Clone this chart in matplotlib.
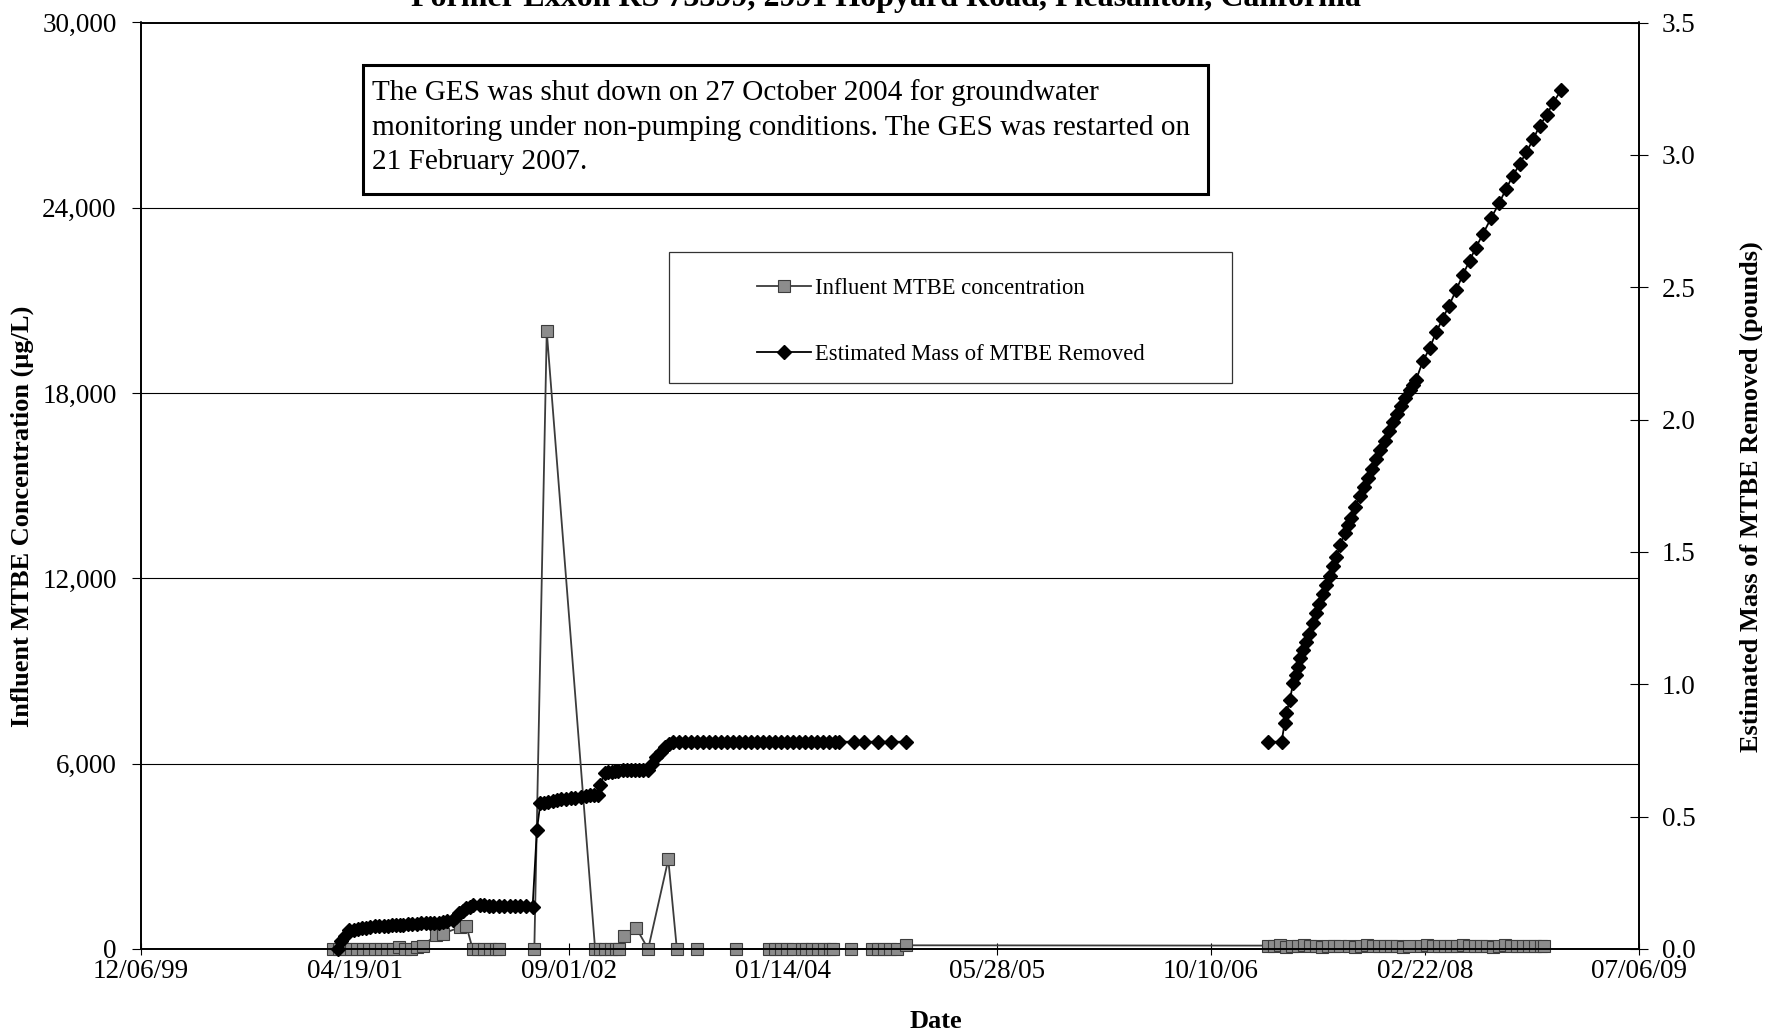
import numpy as np
import pandas as pd
import matplotlib
matplotlib.use('Agg')
import matplotlib.pyplot as plt
import matplotlib.dates as mdates
from matplotlib.patches import Rectangle
from matplotlib.ticker import FuncFormatter

plt.rcParams['font.family'] = ['Liberation Serif', 'DejaVu Serif']

# influent MTBE concentration (ug/L), left axis
conc_dates = [
    '2001-02-26', '2001-03-12', '2001-03-26', '2001-04-09', '2001-04-23', '2001-05-07',
    '2001-05-21', '2001-06-04', '2001-06-18', '2001-07-02', '2001-07-16', '2001-07-30',
    '2001-08-13', '2001-08-27', '2001-09-10', '2001-09-24',
    '2001-10-25', '2001-11-10', '2001-12-20', '2002-01-04',
    '2002-01-19', '2002-02-01', '2002-02-15', '2002-03-01', '2002-03-15', '2002-03-22',
    '2002-06-12', '2002-07-11',
    '2002-11-01', '2002-11-13', '2002-11-25', '2002-12-07', '2002-12-19', '2002-12-26',
    '2003-01-08', '2003-02-05', '2003-03-05', '2003-04-21', '2003-05-11', '2003-06-27',
    '2003-09-26',
    '2003-12-12', '2003-12-26', '2004-01-09', '2004-01-23', '2004-02-06', '2004-02-27',
    '2004-03-08', '2004-03-22', '2004-04-05', '2004-04-19', '2004-05-03', '2004-05-10',
    '2004-06-22',
    '2004-08-09', '2004-08-23', '2004-09-06', '2004-09-20', '2004-10-06', '2004-10-27',
    '2007-02-21', '2007-03-07', '2007-03-21', '2007-04-04', '2007-04-18', '2007-05-02',
    '2007-05-16', '2007-05-30', '2007-06-13', '2007-06-27', '2007-07-11', '2007-07-25',
    '2007-08-08', '2007-08-29', '2007-09-12', '2007-09-26', '2007-10-10', '2007-10-24',
    '2007-11-07', '2007-11-21', '2007-12-05', '2007-12-19', '2008-01-02', '2008-01-16',
    '2008-02-13', '2008-02-27', '2008-03-12', '2008-03-26', '2008-04-09', '2008-04-23',
    '2008-05-07', '2008-05-21', '2008-06-04', '2008-06-18', '2008-07-02', '2008-07-16',
    '2008-07-30', '2008-08-13', '2008-08-27', '2008-09-10', '2008-09-24', '2008-10-08',
    '2008-10-22', '2008-11-05', '2008-11-19', '2008-11-26',
]
conc_vals = [
    0, 0, 0, 0, 0, 0,
    0, 0, 0, 0, 0, 50,
    0, 0, 50, 100,
    450, 500, 700, 750,
    0, 0, 0, 0, 0, 0,
    0, 20000,
    0, 0, 0, 0, 0, 0,
    420, 680, 0, 2900, 0, 0,
    0,
    0, 0, 0, 0, 0, 0,
    0, 0, 0, 0, 0, 0,
    0,
    0, 0, 0, 0, 0, 120,
    110, 95, 120, 80, 100, 90,
    130, 85, 100, 75, 95, 110,
    90, 105, 80, 100, 120, 90,
    85, 100, 110, 95, 80, 100,
    90, 115, 85, 100, 95, 90,
    100, 120, 85, 95, 110, 90,
    80, 100, 115, 90, 105, 95,
    85, 100, 110, 90,
]

# estimated mass of MTBE removed (pounds), right axis, before shutdown
mass_dates_a = [
    '2001-03-10', '2001-03-18', '2001-03-26', '2001-04-06', '2001-04-16', '2001-04-25',
    '2001-05-05', '2001-05-15', '2001-05-25', '2001-06-05', '2001-06-15', '2001-06-25',
    '2001-07-05', '2001-07-15', '2001-07-24', '2001-08-01', '2001-08-10', '2001-08-20',
    '2001-08-30', '2001-09-10', '2001-09-20', '2001-10-02', '2001-10-11', '2001-10-20',
    '2001-11-02', '2001-11-11', '2001-11-20', '2001-12-03', '2001-12-11', '2001-12-19',
    '2001-12-27', '2002-01-04', '2002-01-12', '2002-01-19', '2002-02-05', '2002-02-15',
    '2002-02-25', '2002-03-08', '2002-03-22', '2002-04-03', '2002-04-15', '2002-04-27',
    '2002-05-10', '2002-05-24', '2002-06-08', '2002-06-18', '2002-06-26', '2002-07-05',
    '2002-07-15', '2002-07-25', '2002-08-03', '2002-08-14', '2002-08-25', '2002-09-05',
    '2002-09-15', '2002-09-30', '2002-10-10', '2002-10-20', '2002-10-30', '2002-11-08',
    '2002-11-13', '2002-11-23', '2002-12-02', '2002-12-10', '2002-12-18', '2002-12-25',
    '2003-01-06', '2003-01-15', '2003-01-25', '2003-02-03', '2003-02-12', '2003-02-22',
    '2003-03-05', '2003-03-14', '2003-03-24', '2003-04-03', '2003-04-13', '2003-04-22',
    '2003-05-02', '2003-05-16', '2003-05-30', '2003-06-13', '2003-06-27', '2003-07-11',
    '2003-07-25', '2003-08-08', '2003-08-22', '2003-09-05', '2003-09-19', '2003-10-03',
    '2003-10-17', '2003-10-31', '2003-11-14', '2003-11-28', '2003-12-12', '2003-12-26',
    '2004-01-09', '2004-01-23', '2004-02-06', '2004-02-20', '2004-03-05', '2004-03-19',
    '2004-04-02', '2004-04-16', '2004-04-30', '2004-05-14', '2004-05-24',
    '2004-06-27', '2004-07-21', '2004-08-24', '2004-09-22', '2004-10-27',
]
mass_a = [
    0.0, 0.03, 0.05, 0.07, 0.073, 0.075,
    0.078, 0.08, 0.082, 0.085, 0.086, 0.087,
    0.088, 0.089, 0.09, 0.091, 0.092, 0.093,
    0.095, 0.096, 0.098, 0.10, 0.10, 0.10,
    0.10, 0.102, 0.105, 0.11, 0.12, 0.135,
    0.145, 0.154, 0.16, 0.165, 0.165, 0.165,
    0.164, 0.164, 0.163, 0.163, 0.162, 0.162,
    0.161, 0.161, 0.160, 0.45, 0.55, 0.552,
    0.555, 0.559, 0.563, 0.565, 0.568, 0.57,
    0.572, 0.575, 0.578, 0.58, 0.581, 0.582,
    0.62, 0.664, 0.668, 0.67, 0.672, 0.674,
    0.676, 0.676, 0.676, 0.676, 0.676, 0.676,
    0.676, 0.70, 0.727, 0.745, 0.764, 0.775,
    0.783, 0.783, 0.783, 0.783, 0.783, 0.783,
    0.783, 0.783, 0.783, 0.783, 0.783, 0.783,
    0.783, 0.783, 0.783, 0.783, 0.783, 0.783,
    0.783, 0.783, 0.783, 0.783, 0.783, 0.783,
    0.783, 0.783, 0.783, 0.783, 0.783,
    0.783, 0.783, 0.783, 0.783, 0.783,
]
# after the restart
mass_dates_b = [
    '2007-02-21', '2007-03-24', '2007-03-31', '2007-04-04', '2007-04-12', '2007-04-20',
    '2007-04-26', '2007-05-01', '2007-05-07', '2007-05-13', '2007-05-20', '2007-05-28',
    '2007-06-05', '2007-06-13', '2007-06-20', '2007-06-28', '2007-07-06', '2007-07-14',
    '2007-07-22', '2007-07-30', '2007-08-08', '2007-08-18', '2007-08-26', '2007-09-03',
    '2007-09-12', '2007-09-22', '2007-10-02', '2007-10-12', '2007-10-21', '2007-10-31',
    '2007-11-10', '2007-11-20', '2007-11-30', '2007-12-09', '2007-12-18', '2007-12-28',
    '2008-01-07', '2008-01-17', '2008-01-24', '2008-02-01', '2008-02-17', '2008-03-04',
    '2008-03-19', '2008-04-03', '2008-04-18', '2008-05-05', '2008-05-20', '2008-06-05',
    '2008-06-20', '2008-07-06', '2008-07-25', '2008-08-14', '2008-08-29', '2008-09-14',
    '2008-09-30', '2008-10-16', '2008-11-01', '2008-11-16', '2008-12-02', '2008-12-17',
    '2009-01-05',
]
mass_b = [
    0.783, 0.783, 0.853, 0.89, 0.94, 1.004,
    1.035, 1.067, 1.10, 1.13, 1.16, 1.19,
    1.23, 1.27, 1.305, 1.34, 1.375, 1.41,
    1.445, 1.48, 1.525, 1.57, 1.60, 1.63,
    1.67, 1.71, 1.745, 1.78, 1.815, 1.85,
    1.885, 1.92, 1.955, 1.99, 2.02, 2.05,
    2.08, 2.11, 2.13, 2.15, 2.22, 2.27,
    2.33, 2.38, 2.43, 2.49, 2.545, 2.60,
    2.65, 2.70, 2.76, 2.82, 2.87, 2.92,
    2.965, 3.01, 3.06, 3.11, 3.15, 3.195,
    3.245,
]

title = 'Former Exxon RS 73399, 2991 Hopyard Road, Pleasanton, California'
note = ('The GES was shut down on 27 October 2004 for groundwater\n'
        'monitoring under non-pumping conditions. The GES was restarted on\n'
        '21 February 2007.')

W, H = 1766, 1035
fig = plt.figure(figsize=(W / 100, H / 100), dpi=100)
ax = fig.add_axes([141 / W, 1 - 949 / H, 1498 / W, 926.5 / H])

conc_line, = ax.plot(pd.to_datetime(conc_dates), conc_vals, color='#3c3c3c', lw=1.3,
                     marker='s', ms=9, mfc='#8c8c8c', mec='#3c3c3c', mew=0.8,
                     clip_on=False, label='Influent MTBE concentration')

ax2 = ax.twinx()
mass_line, = ax2.plot(pd.to_datetime(mass_dates_a), mass_a, color='black', lw=1.3,
                      marker='D', ms=7.5, mfc='black', mec='black',
                      clip_on=False, label='Estimated Mass of MTBE Removed')
ax2.plot(pd.to_datetime(mass_dates_b), mass_b, color='black', lw=1.3,
         marker='D', ms=7.5, mfc='black', mec='black', clip_on=False)

# axes and ticks
ax.set_xlim(pd.Timestamp('1999-12-06'), pd.Timestamp('2009-07-06'))
ax.set_xticks(pd.date_range('1999-12-06', periods=8, freq='500D'))
ax.xaxis.set_major_formatter(mdates.DateFormatter('%m/%d/%y'))
ax.set_ylim(0, 30000)
ax.set_yticks(range(0, 30001, 6000))
ax.yaxis.set_major_formatter(FuncFormatter(lambda v, p: f'{v:,.0f}'))
ax2.set_ylim(0, 3.5)
ax2.set_yticks(np.arange(0, 3.51, 0.5))
ax2.yaxis.set_major_formatter(FuncFormatter(lambda v, p: f'{v:.1f}'))

ax.yaxis.grid(True, color='black', lw=0.8)
ax.tick_params(axis='x', direction='inout', length=9, width=0.8, pad=3, labelsize=19.5)
ax.tick_params(axis='y', direction='out', length=6.5, width=0.8, pad=11, labelsize=19.5)
ax2.tick_params(axis='y', direction='inout', length=13, width=0.8, pad=10, labelsize=19.5)
for a in (ax, ax2):
    for s in a.spines.values():
        s.set_linewidth(1.2)
        s.set_color('black')

# legend in its own box
fig.legend([conc_line, mass_line], [conc_line.get_label(), mass_line.get_label()],
           loc='center left', bbox_to_anchor=(757 / W, 1 - 321.5 / H), frameon=False,
           fontsize=16.3, handlelength=2.4, handletextpad=0.15, labelspacing=2.0,
           borderpad=0, borderaxespad=0)
fig.patches.append(Rectangle((669 / W, 1 - 383 / H), 563 / W, 131 / H,
                             transform=fig.transFigure, fill=False, lw=0.9, ec='#333333'))

# note box
fig.patches.append(Rectangle((363 / W, 1 - 194 / H), 845 / W, 129 / H,
                             transform=fig.transFigure, facecolor='white', lw=2.2,
                             ec='black', zorder=2))
fig.text(372 / W, 1 - 79 / H, note, ha='left', va='top', fontsize=21.1, linespacing=1.43,
         zorder=3)

# titles and axis labels
fig.text(886 / W, 1 - 6 / H, title, ha='center', va='baseline', fontsize=23,
         fontweight='bold')
fig.text(22 / W, 1 - 516 / H, 'Influent MTBE Concentration (μg/L)', rotation=90,
         ha='center', va='center', fontsize=19, fontweight='bold')
fig.text(1751 / W, 1 - 497 / H, 'Estimated Mass of MTBE Removed (pounds)', rotation=90,
         ha='center', va='center', fontsize=19, fontweight='bold')
fig.text(936 / W, 1 - 1022 / H, 'Date', ha='center', va='center', fontsize=19,
         fontweight='bold')

fig.savefig('out.png', dpi=100)
